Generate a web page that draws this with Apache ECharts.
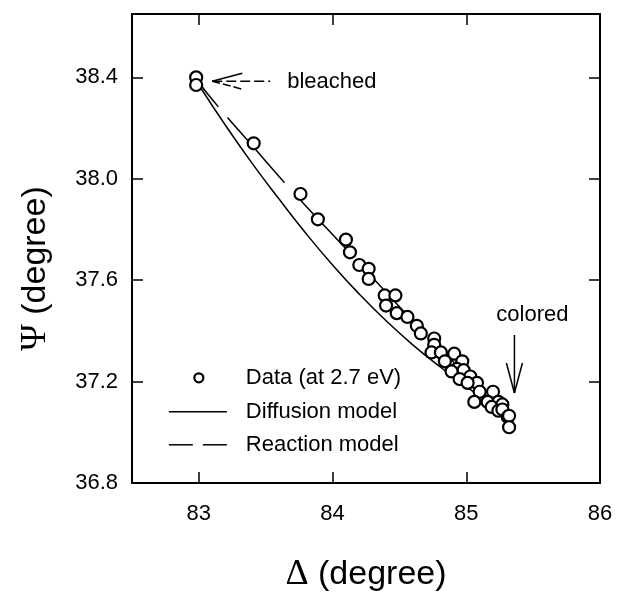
<!DOCTYPE html>
<html><head><meta charset="utf-8">
<script src="https://cdn.jsdelivr.net/npm/echarts@6/dist/echarts.min.js"></script>
<style>html,body{margin:0;padding:0;background:#fff}#c{width:624px;height:593px}</style>
</head><body><div id="c"></div>
<script>
// ---- data ----
const deltaData = [82.98,82.98,83.41,83.76,83.89,84.10,84.13,84.20,84.27,84.27,84.39,84.47,84.40,84.48,84.56,84.63,84.66,84.76,84.76,84.74,84.81,84.91,84.84,84.97,84.93,84.98,84.89,85.03,84.95,85.08,85.01,85.10,85.20,85.06,85.16,85.24,85.19,85.27,85.24,85.27,85.31,85.32,85.32];
const psiData   = [38.40,38.37,38.14,37.94,37.84,37.76,37.71,37.66,37.645,37.605,37.54,37.54,37.50,37.47,37.455,37.42,37.39,37.37,37.345,37.315,37.315,37.31,37.28,37.28,37.25,37.245,37.24,37.22,37.21,37.195,37.195,37.16,37.16,37.12,37.12,37.12,37.10,37.11,37.085,37.09,37.06,37.065,37.02];
const diffusionDelta = [83.0,83.2,83.4,83.6,83.8,84.0,84.2,84.4,84.6,84.8,85.0,85.2,85.35];
const diffusionPsi   = [38.37,38.21,38.06,37.92,37.785,37.66,37.545,37.44,37.345,37.26,37.18,37.105,37.05];
const reactionDelta = [83.0,83.12,83.4,83.7,84.0,84.3,84.6,84.9,85.1,85.3,85.35];
const reactionPsi   = [38.38,38.30,38.13,37.95,37.78,37.61,37.44,37.28,37.17,37.07,37.04];
const xTicks = [83,84,85,86];
const yTicks = [36.8,37.2,37.6,38.0,38.4];
const legendNames = ['Data (at 2.7 eV)','Diffusion model','Reaction model'];

const zip = (a,b)=>a.map((v,i)=>[v,b[i]]);
const FONT = 'Liberation Sans';
const chart = echarts.init(document.getElementById('c'));
const axisCommon = {
  axisLine:{show:true,onZero:false,lineStyle:{color:'#000',width:2}},
  splitLine:{show:false}
};
chart.setOption({
  animation:false,
  backgroundColor:'#fff',
  grid:{left:132,top:14,width:468,height:469,containLabel:false,outerBoundsMode:'none'},
  xAxis:[
    Object.assign({type:'value',min:82.5,max:86,position:'bottom',
      axisTick:{inside:true,length:11,lineStyle:{color:'#000',width:1.5},customValues:xTicks},
      axisLabel:{customValues:xTicks,fontSize:22,color:'#000',fontFamily:FONT,margin:20},
      name:'{g|Δ} (degree)',nameLocation:'middle',nameGap:74,
      nameTextStyle:{fontSize:34,color:'#000',fontFamily:FONT,rich:{g:{fontFamily:'Liberation Serif',fontSize:36,color:'#000'}}}
    },axisCommon),
    Object.assign({type:'value',min:82.5,max:86,position:'top',
      axisTick:{inside:true,length:11,lineStyle:{color:'#000',width:1.5},customValues:xTicks},
      axisLabel:{show:false}},axisCommon)
  ],
  yAxis:[
    Object.assign({type:'value',min:36.8,max:38.65,position:'left',
      axisTick:{inside:true,length:11,lineStyle:{color:'#000',width:1.5},customValues:yTicks},
      axisLabel:{customValues:yTicks,fontSize:22,color:'#000',fontFamily:FONT,margin:14,formatter:v=>v.toFixed(1)},
      name:'{g|Ψ} (degree)',nameLocation:'middle',nameGap:78,
      nameTextStyle:{fontSize:34,color:'#000',fontFamily:FONT,padding:[0,40,0,0],rich:{g:{fontFamily:'Liberation Serif',fontSize:36,color:'#000'}}}
    },axisCommon),
    Object.assign({type:'value',min:36.8,max:38.65,position:'right',
      axisTick:{inside:true,length:11,lineStyle:{color:'#000',width:1.5},customValues:yTicks},
      axisLabel:{show:false}},axisCommon)
  ],
  series:[
    {name:legendNames[1],type:'line',data:zip(diffusionDelta,diffusionPsi),smooth:true,symbol:'none',
      lineStyle:{color:'#000',width:1.5},z:2},
    {name:legendNames[2],type:'line',data:zip(reactionDelta,reactionPsi),smooth:true,symbol:'none',
      lineStyle:{color:'#000',width:1.5,type:[87,14],dashOffset:56},z:2},
    {name:legendNames[0],type:'scatter',data:zip(deltaData,psiData),symbol:'circle',symbolSize:12,
      itemStyle:{color:'#fff',borderColor:'#000',borderWidth:2.2,opacity:1},z:3}
  ]
});

// annotations and legend anchored to data coordinates
const P = (x,y)=>chart.convertToPixel({xAxisIndex:0,yAxisIndex:0},[x,y]);
const txt = (x,y,t,extra)=>({type:'text',x:x,y:y,style:Object.assign({text:t,fontSize:22,fontFamily:FONT,fill:'#000',textVerticalAlign:'middle'},extra||{})});
const ln = (x1,y1,x2,y2,dash)=>({type:'line',shape:{x1,y1,x2,y2},style:{stroke:'#000',lineWidth:1.5,lineDash:dash||null}});
const g = [];
// legend
const lc = P(83.0,37.215);
g.push({type:'circle',shape:{cx:lc[0],cy:lc[1],r:4.5},style:{fill:'#fff',stroke:'#000',lineWidth:2.2}});
g.push(txt(lc[0]+47,lc[1],legendNames[0]));
const l2 = [lc[0]-30, lc[1]+34];
g.push(ln(l2[0],l2[1],l2[0]+58,l2[1]));
g.push(txt(lc[0]+47,l2[1],legendNames[1]));
const l3 = [lc[0]-30, lc[1]+67];
g.push(ln(l3[0],l3[1],l3[0]+24,l3[1]));
g.push(ln(l3[0]+34,l3[1],l3[0]+58,l3[1]));
g.push(txt(lc[0]+47,l3[1],legendNames[2]));
// bleached arrow
const b = P(83.1,38.385);
g.push(ln(b[0],b[1],b[0]+58,b[1],[10,4]));
g.push(ln(b[0],b[1],b[0]+30,b[1]-8));
g.push(ln(b[0],b[1],b[0]+30,b[1]+8,[8,3]));
g.push(txt(b[0]+75,b[1]+1,'bleached'));
// colored arrow
const c = P(85.36,37.155);
g.push(ln(c[0],c[1],c[0],c[1]-58));
g.push(ln(c[0],c[1],c[0]-8,c[1]-30));
g.push(ln(c[0],c[1],c[0]+8,c[1]-30));
g.push(txt(c[0]+18,c[1]-78,'colored',{textAlign:'center'}));
chart.setOption({graphic:g});
</script></body></html>
